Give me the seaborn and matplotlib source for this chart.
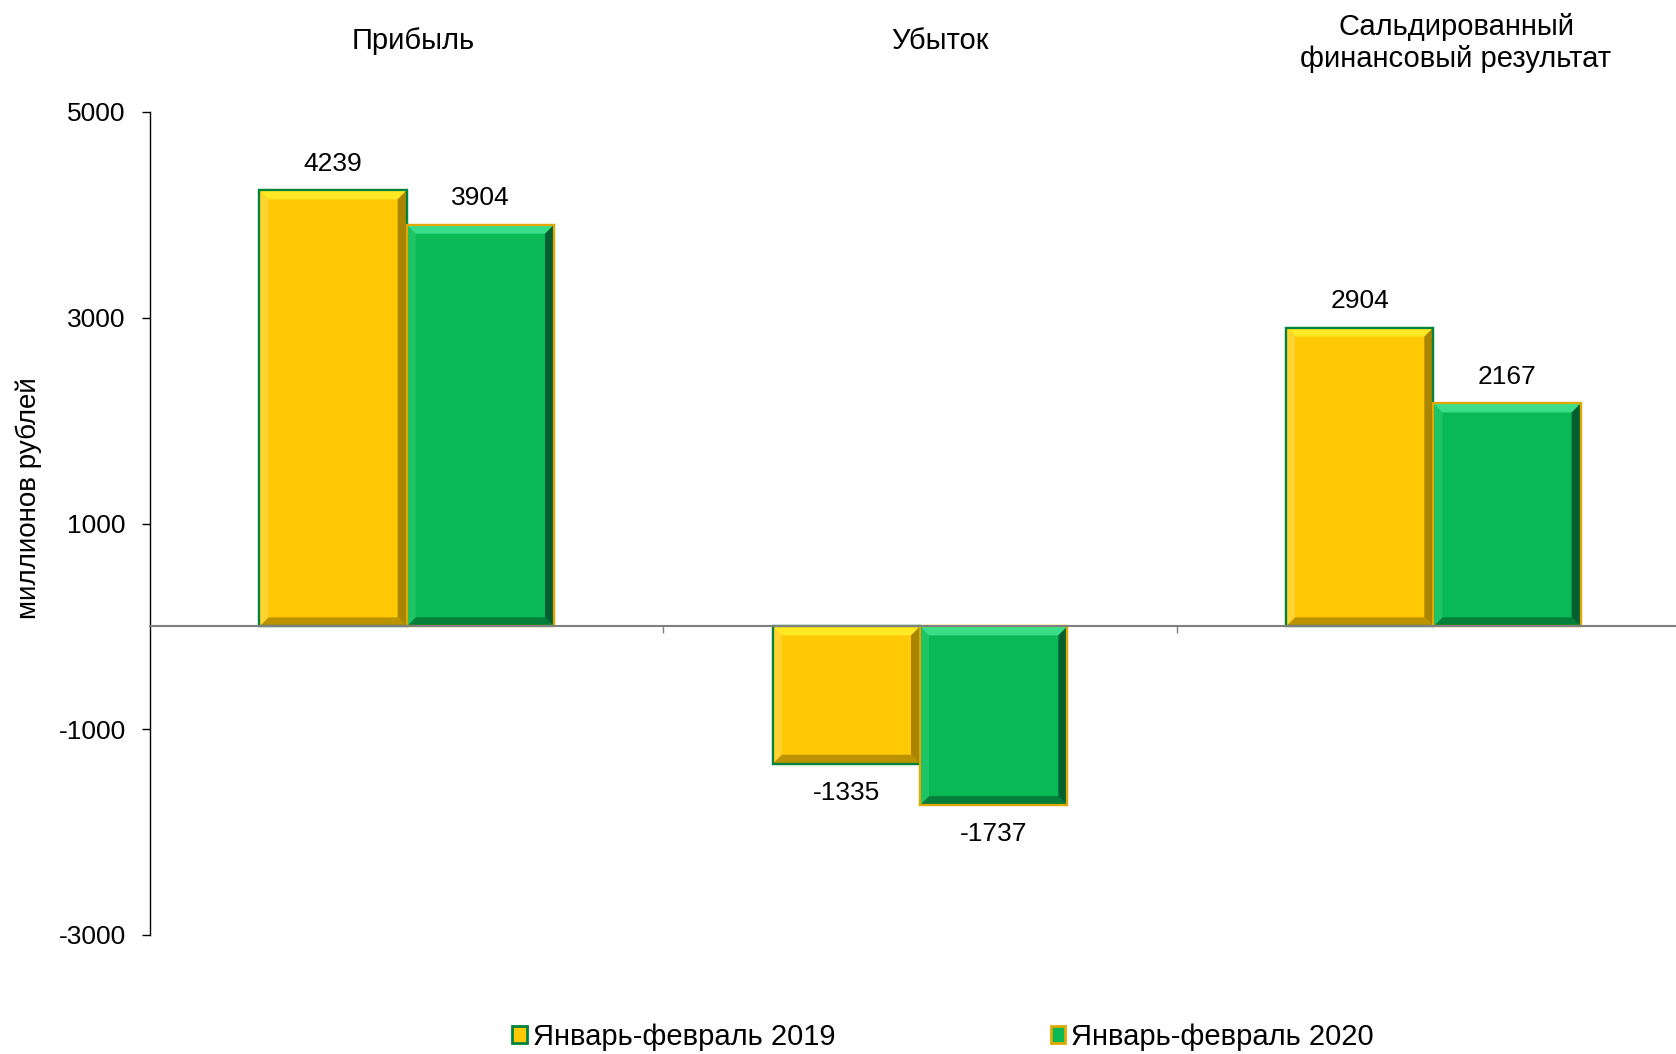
import pandas as pd
import matplotlib.pyplot as plt
import seaborn as sns
from matplotlib.patches import Polygon, Patch

# Data
categories = ["Прибыль", "Убыток", "Сальдированный\nфинансовый результат"]
periods = ["Январь-февраль 2019", "Январь-февраль 2020"]
values_2019 = [4239, -1335, 2904]
values_2020 = [3904, -1737, 2167]
yticks = [-3000, -1000, 1000, 3000, 5000]

df = pd.DataFrame({
    "cat": categories * 2,
    "period": [periods[0]] * 3 + [periods[1]] * 3,
    "value": values_2019 + values_2020,
})

sns.set_theme(style="white")
plt.rcParams["font.family"] = ["Liberation Sans", "DejaVu Sans"]
plt.rcParams["axes.unicode_minus"] = False
plt.rcParams["text.color"] = "black"
plt.rcParams["axes.labelcolor"] = "black"
plt.rcParams["ytick.color"] = "black"
plt.rcParams["xtick.color"] = "black"

yellow = "#FFC905"
green = "#08B955"
# bevel colours per series
styles = [
    dict(edge="#00843C", top="#FFEE2A", right="#9C7A00", bottom="#B08A00", left="#FFD638"),
    dict(edge="#E0A800", top="#45E592", right="#03502A", bottom="#047434", left="#22C86A"),
]

W, H = 1676, 1054
fig = plt.figure(figsize=(W / 100, H / 100), dpi=100)
ax = fig.add_axes([150 / W, 1 - 935 / H, 1540 / W, 823 / H])

sns.barplot(data=df, x="cat", y="value", hue="period", hue_order=periods,
            palette=[yellow, green], saturation=1, width=0.574, legend=False, ax=ax)

ax.set_xlim(-0.5, 2.5)
ax.set_ylim(-3000, 5000)
ax.set_yticks(yticks)
ax.set_xticks([0.5, 1.5])
ax.set_xticklabels([])
ax.set_xlabel("")
ax.set_ylabel("миллионов рублей", fontsize=20, color="black")
ax.yaxis.set_label_coords(-0.07, 0.531)

for s in ["top", "right"]:
    ax.spines[s].set_visible(False)
ax.spines["bottom"].set_position(("data", 0))
ax.spines["bottom"].set_color("#808080")
ax.spines["bottom"].set_linewidth(1.5)
ax.spines["left"].set_color("#000000")
ax.spines["left"].set_linewidth(1.0)
ax.tick_params(axis="y", direction="out", length=6, width=1, color="black",
               pad=11.5, labelsize=19, labelcolor="black", left=True)
ax.tick_params(axis="x", direction="out", length=5, width=1, color="#808080", bottom=True)

# bevel size: pixels -> data units
px_x = 3.0 / 1540
px_y = 8000 / 823
bev = 9

for ci, cont in enumerate(ax.containers):
    st = styles[ci]
    for bar in cont:
        x0 = bar.get_x()
        x1 = x0 + bar.get_width()
        y0 = min(bar.get_y(), bar.get_y() + bar.get_height())
        y1 = max(bar.get_y(), bar.get_y() + bar.get_height())
        bx, by = bev * px_x, bev * px_y
        bar.set_edgecolor(st["edge"])
        bar.set_linewidth(1.6)
        faces = [
            ([(x0, y1), (x1, y1), (x1 - bx, y1 - by), (x0 + bx, y1 - by)], st["top"]),
            ([(x1, y1), (x1, y0), (x1 - bx, y0 + by), (x1 - bx, y1 - by)], st["right"]),
            ([(x0, y0), (x1, y0), (x1 - bx, y0 + by), (x0 + bx, y0 + by)], st["bottom"]),
            ([(x0, y0), (x0, y1), (x0 + bx, y1 - by), (x0 + bx, y0 + by)], st["left"]),
        ]
        for pts, col in faces:
            ax.add_patch(Polygon(pts, closed=True, facecolor=col, edgecolor="none",
                                 alpha=0.85, zorder=bar.get_zorder() + 0.1))
        ax.add_patch(Polygon([(x0, y0), (x1, y0), (x1, y1), (x0, y1)], closed=True,
                             facecolor="none", edgecolor=st["edge"], linewidth=1.6,
                             zorder=bar.get_zorder() + 0.2))
        val = bar.get_height()
        off = 19 if val >= 0 else -21
        ax.annotate(f"{val:.0f}", (bar.get_x() + bar.get_width() / 2, val),
                    xytext=(0, off), textcoords="offset points",
                    ha="center", va="center", fontsize=19, color="black")

# category titles at the top
fig.text(413 / W, 1 - 41 / H, categories[0], ha="center", va="center", fontsize=21)
fig.text(940 / W, 1 - 41 / H, categories[1], ha="center", va="center", fontsize=21)
fig.text(1456 / W, 1 - 43 / H, categories[2], ha="center", va="center", fontsize=21,
         linespacing=1.2)

handles = [
    Patch(facecolor=yellow, edgecolor=styles[0]["edge"], linewidth=2),
    Patch(facecolor=green, edgecolor=styles[1]["edge"], linewidth=2),
]
fig.legend(handles, periods, loc="center", bbox_to_anchor=(943 / W, 1 - 1037 / H),
           ncol=2, frameon=False, fontsize=21, handlelength=0.5, handleheight=0.5,
           handletextpad=0.2, columnspacing=7.4)

fig.savefig("out.png", dpi=100, facecolor="white")
